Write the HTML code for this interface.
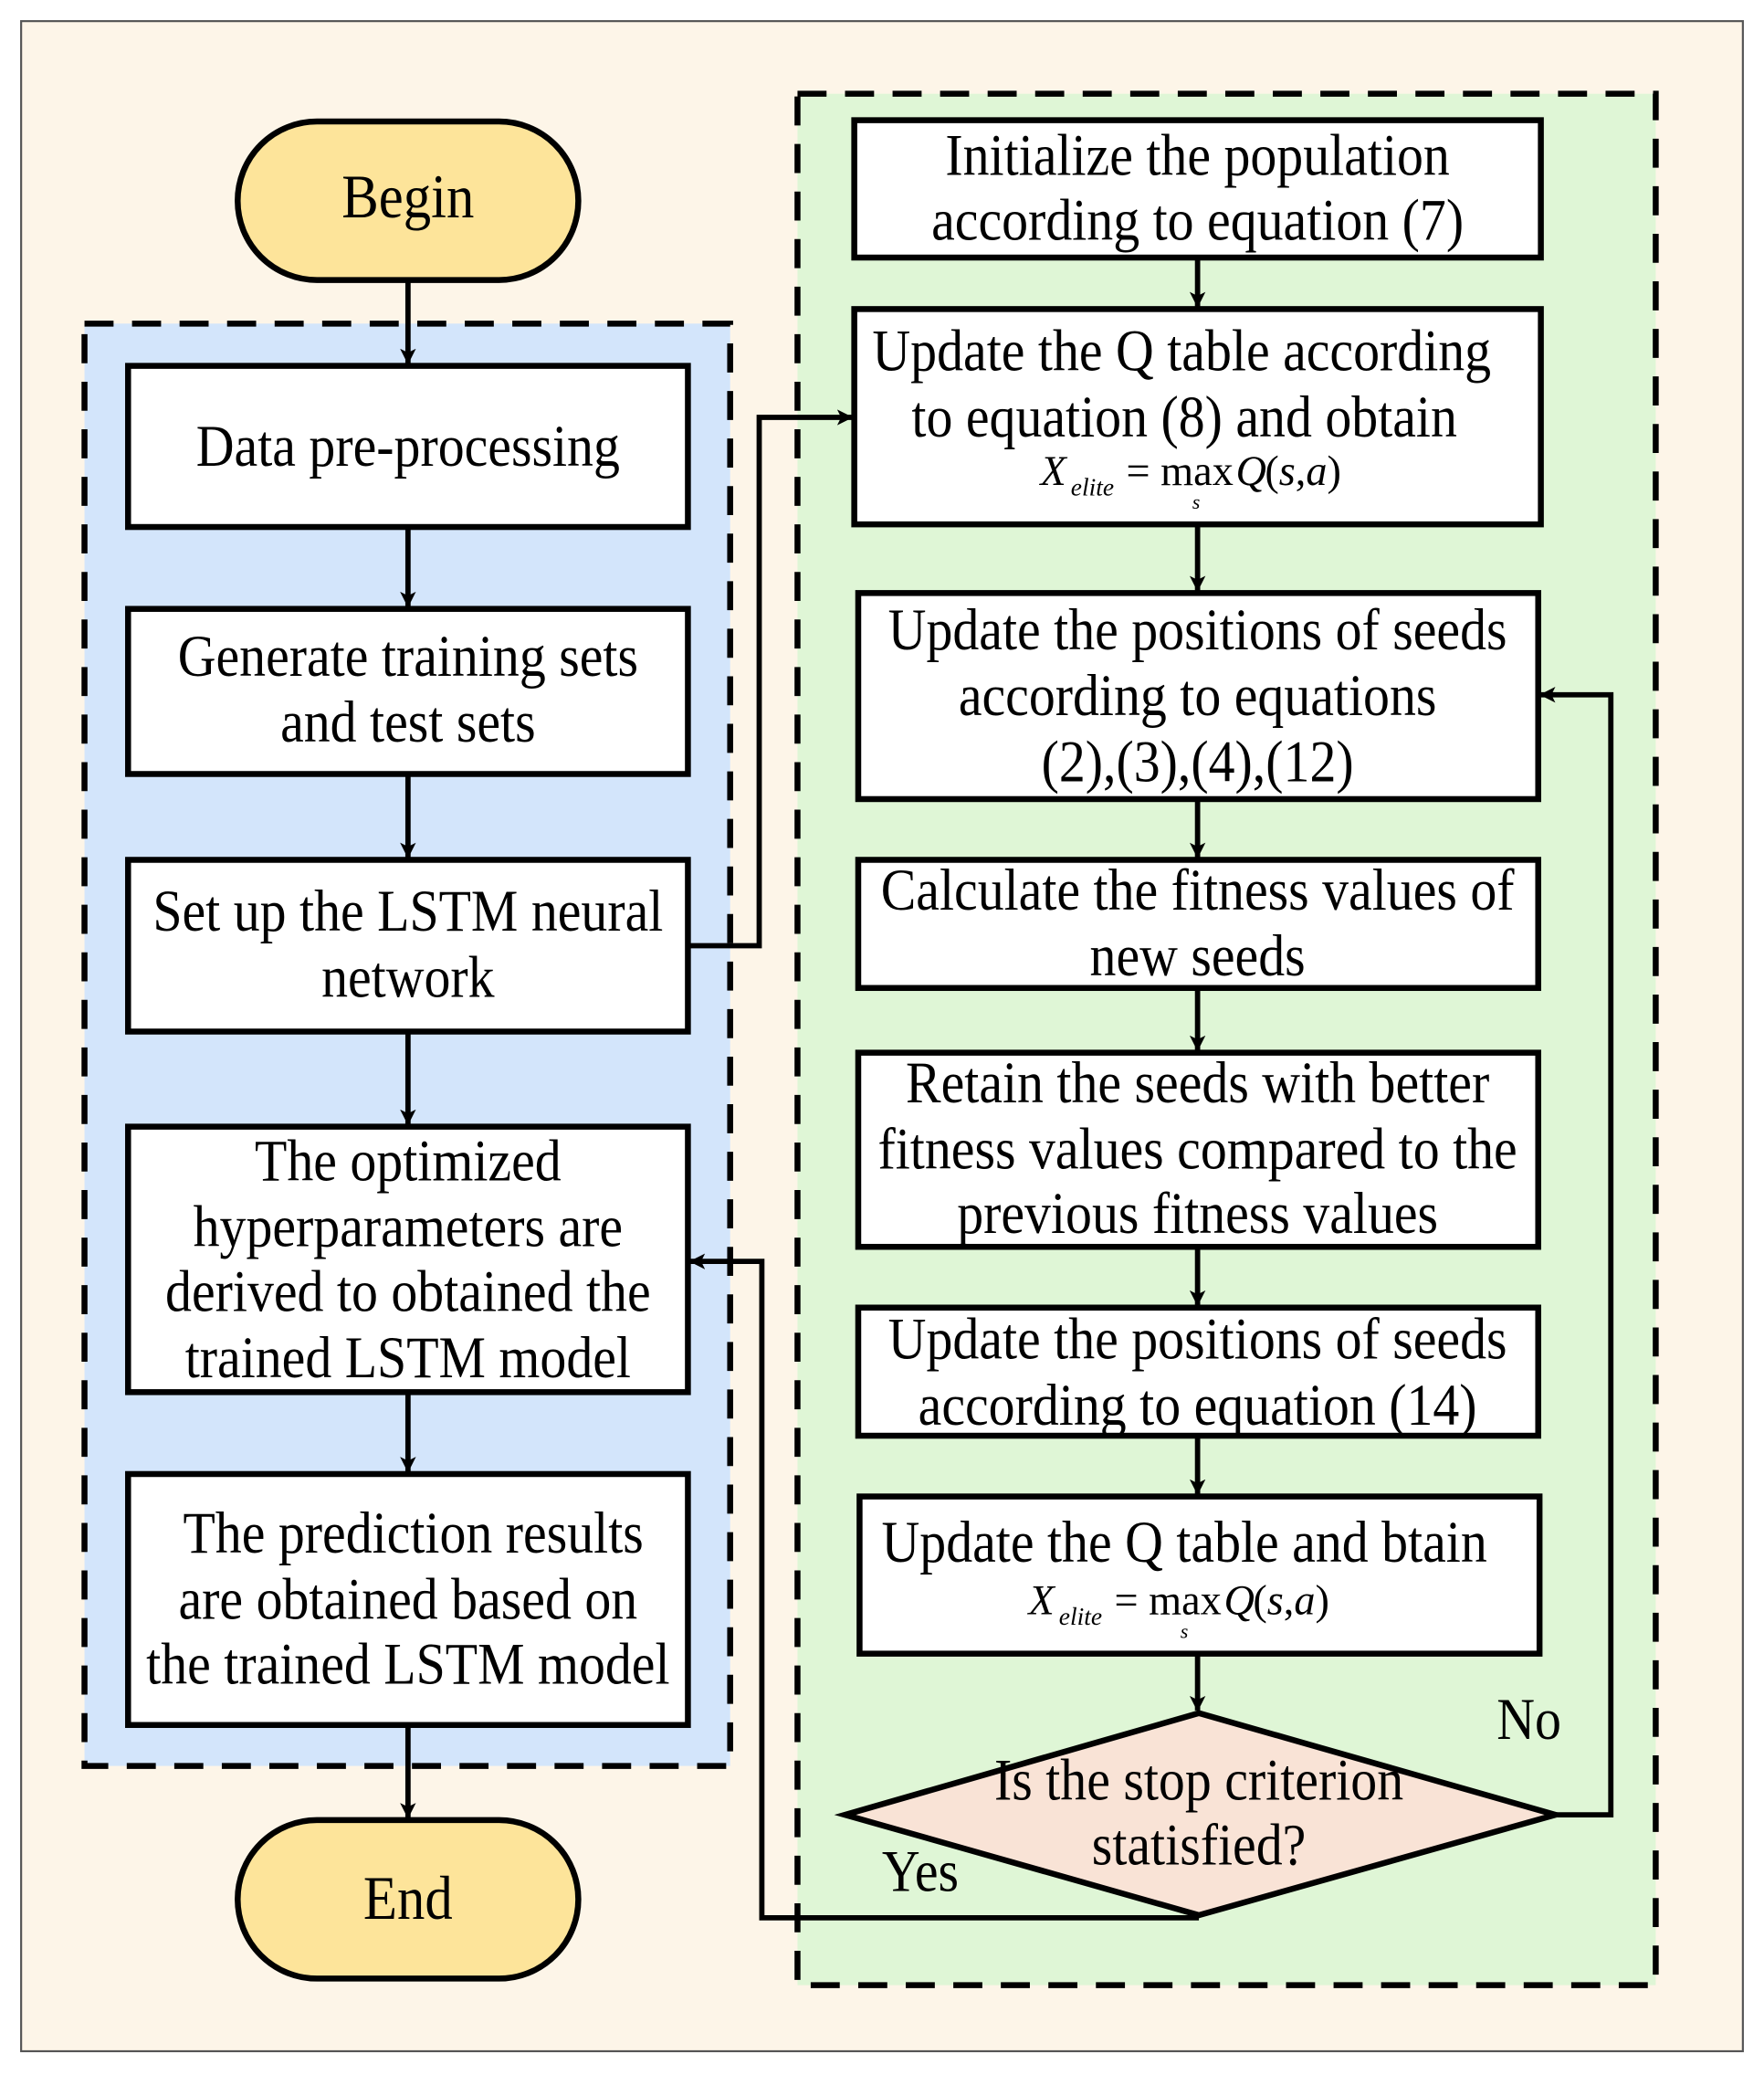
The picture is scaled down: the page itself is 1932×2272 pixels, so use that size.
<!DOCTYPE html>
<html><head><meta charset="utf-8"><style>
html,body{margin:0;padding:0;background:#fff;}
svg{display:block;}
text{font-family:"Liberation Serif","Times New Roman",serif;fill:#000;}
.t text{transform-box:fill-box;transform-origin:center;transform:scaleY(1.12);}
</style></head><body>
<svg width="1932" height="2272" viewBox="0 0 1336 1571" preserveAspectRatio="none" xmlns="http://www.w3.org/2000/svg">
<defs>
<marker id="a" markerWidth="12" markerHeight="12" refX="11" refY="6" orient="auto" markerUnits="userSpaceOnUse" viewBox="0 0 12 12">
<path d="M0,0 L12,6 L0,12 L3,6 z" fill="#000"/>
</marker>
</defs>
<rect x="0" y="0" width="1336" height="1571" fill="#fff"/>
<rect x="16" y="16" width="1304" height="1537" fill="#fdf5e8" stroke="#555" stroke-width="1.5"/>
<rect x="64" y="245" width="489" height="1092" fill="#d3e5fb" stroke="#000" stroke-width="4.5" stroke-dasharray="22,14"/>
<rect x="604" y="71" width="650" height="1432" fill="#dff6d6" stroke="#000" stroke-width="4.5" stroke-dasharray="22,14"/>
<rect x="180" y="92" width="258" height="120" rx="60" fill="#fde49a" stroke="#000" stroke-width="4.5"/>
<rect x="180" y="1378" width="258" height="120" rx="60" fill="#fde49a" stroke="#000" stroke-width="4.5"/>
<g fill="#fff" stroke="#000" stroke-width="4.5">
<rect x="97" y="277" width="424" height="122"/>
<rect x="97" y="461" width="424" height="125"/>
<rect x="97" y="651" width="424" height="130"/>
<rect x="97" y="853" width="424" height="201"/>
<rect x="97" y="1116" width="424" height="190"/>
<rect x="647" y="91" width="520" height="104"/>
<rect x="647" y="234" width="520" height="163"/>
<rect x="650" y="449" width="515" height="156"/>
<rect x="650" y="651" width="515" height="97"/>
<rect x="650" y="797" width="515" height="147"/>
<rect x="650" y="990" width="515" height="97"/>
<rect x="651" y="1133" width="515" height="119"/>
<polygon points="640,1374 908,1297 1178,1374 908,1450" fill="#f9e3d6"/>
</g>
<g stroke="#000" stroke-width="4" fill="none" marker-end="url(#a)">
<line x1="309" y1="212" x2="309" y2="275"/>
<line x1="309" y1="399" x2="309" y2="459"/>
<line x1="309" y1="586" x2="309" y2="649"/>
<line x1="309" y1="781" x2="309" y2="851"/>
<line x1="309" y1="1054" x2="309" y2="1114"/>
<line x1="309" y1="1306" x2="309" y2="1376"/>
<line x1="907" y1="195" x2="907" y2="232"/>
<line x1="907" y1="397" x2="907" y2="447"/>
<line x1="907" y1="605" x2="907" y2="649"/>
<line x1="907" y1="748" x2="907" y2="795"/>
<line x1="907" y1="944" x2="907" y2="988"/>
<line x1="907" y1="1087" x2="907" y2="1131"/>
<line x1="907" y1="1252" x2="907" y2="1295"/>
<polyline points="521,716 575,716 575,316 645,316"/>
<polyline points="1178,1374 1220,1374 1220,526 1167,526"/>
<polyline points="908,1452 577,1452 577,955 523,955"/>
</g>
<g class="t" font-size="40" text-anchor="middle">
<text x="309" y="163" font-size="42">Begin</text>
<text x="309" y="1451" font-size="42">End</text>
<text x="309" y="351">Data pre-processing</text>
<text x="309" y="510">Generate training sets</text>
<text x="309" y="560">and test sets</text>
<text x="309" y="703">Set up the LSTM neural</text>
<text x="309" y="753">network</text>
<text x="309" y="892">The optimized</text>
<text x="309" y="942">hyperparameters are</text>
<text x="309" y="991">derived to obtained the</text>
<text x="309" y="1041">trained LSTM model</text>
<text x="313" y="1174">The prediction results</text>
<text x="309" y="1224">are obtained based on</text>
<text x="309" y="1273">the trained LSTM model</text>
<text x="907" y="131">Initialize the population</text>
<text x="907" y="180">according to equation (7)</text>
<text x="895" y="279">Update the Q table according</text>
<text x="897" y="329">to equation (8) and obtain</text>
<text x="907" y="490">Update the positions of seeds</text>
<text x="907" y="540">according to equations</text>
<text x="907" y="590">(2),(3),(4),(12)</text>
<text x="907" y="687">Calculate the fitness values of</text>
<text x="907" y="737">new seeds</text>
<text x="907" y="833">Retain the seeds with better</text>
<text x="907" y="883">fitness values compared to the</text>
<text x="907" y="932">previous fitness values</text>
<text x="907" y="1027">Update the positions of seeds</text>
<text x="907" y="1077">according to equation (14)</text>
<text x="897" y="1181">Update the Q table  and btain</text>
<text x="908" y="1361">Is the stop criterion</text>
<text x="908" y="1410">statisfied?</text>
<text x="1158" y="1315">No</text>
<text x="697" y="1430">Yes</text>
</g>
<g font-size="32">
<text x="788" y="367" font-style="italic">X</text>
<text x="811" y="375" font-size="19" font-style="italic">elite</text>
<text x="853" y="367">= max</text>
<text x="903" y="385" font-size="15" font-style="italic">s</text>
<text x="936" y="367" font-style="italic">Q</text>
<text x="958" y="367">(<tspan font-style="italic">s</tspan>,<tspan font-style="italic">a</tspan>)</text>
<text x="779" y="1222" font-style="italic">X</text>
<text x="802" y="1230" font-size="19" font-style="italic">elite</text>
<text x="844" y="1222">= max</text>
<text x="894" y="1240" font-size="15" font-style="italic">s</text>
<text x="927" y="1222" font-style="italic">Q</text>
<text x="949" y="1222">(<tspan font-style="italic">s</tspan>,<tspan font-style="italic">a</tspan>)</text>
</g>
</svg>
</body></html>
